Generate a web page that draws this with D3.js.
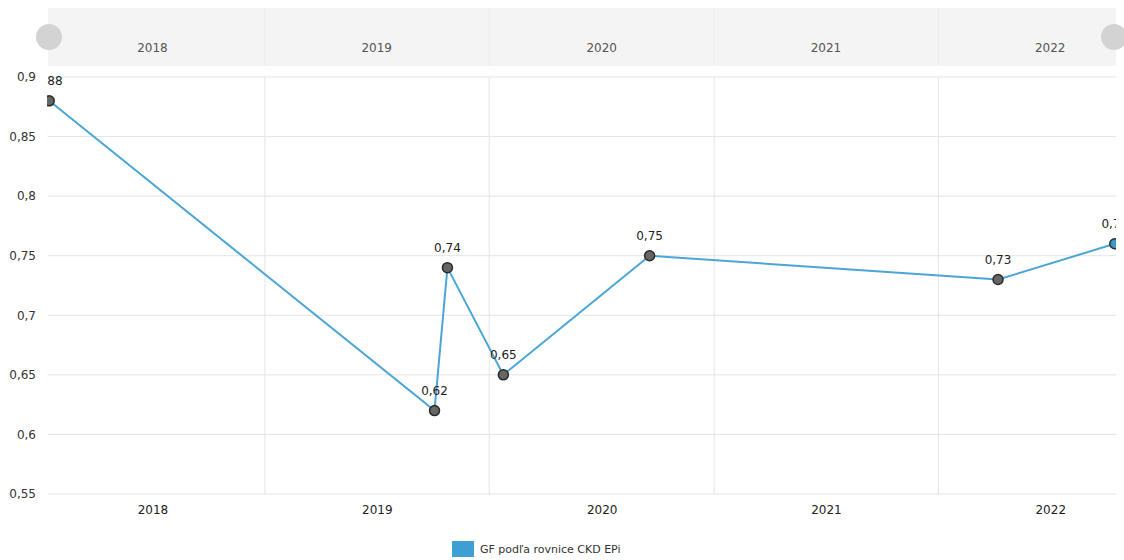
<!DOCTYPE html>
<html><head><meta charset="utf-8">
<script src="https://cdn.jsdelivr.net/npm/d3@7"></script>
<style>body{margin:0;background:#fff}svg{display:block;font-family:"DejaVu Sans",Verdana,sans-serif}</style>
</head><body>
<svg id="c" width="1124" height="560"></svg>
<script>
const dates = ["2018-01-15","2019-10-04","2019-10-25","2020-01-24","2020-09-18","2022-04-08","2022-10-15"];
const values = [0.88,0.62,0.74,0.65,0.75,0.73,0.76];
const yTicks = [0.55,0.6,0.65,0.7,0.75,0.8,0.85,0.9];
const yearLabels = ["2018","2019","2020","2021","2022"];
const seriesName = "GF podľa rovnice CKD EPi";

const parse = d3.timeParse("%Y-%m-%d");
const data = dates.map((d,i)=>({date:parse(d), value:values[i]}));
const svg = d3.select("#c");
const L=48, R=1116, T=77, B=494;
const x = d3.scaleTime().domain([parse("2018-01-13"), parse("2022-10-17")]).range([L,R]);
const y = d3.scaleLinear().domain([0.55,0.9]).range([B,T]);
const fmt = v => d3.format(".2~f")(v).replace(".",",");

const yearStarts = yearLabels.slice(1).map(s=>new Date(+s,0,1));
const yearMids = yearLabels.map(s=>new Date(+s,6,2));

// slider
const sl = svg.append("g");
sl.append("rect").attr("x",L).attr("y",8).attr("width",R-L).attr("height",58).attr("fill","#f4f4f4");
sl.selectAll("line.d").data(yearStarts).join("line")
  .attr("x1",d=>x(d)).attr("x2",d=>x(d)).attr("y1",8).attr("y2",66).attr("stroke","#ebebeb");
sl.selectAll("text").data(yearMids).join("text")
  .attr("x",d=>x(d)).attr("y",52).attr("text-anchor","middle").attr("font-size",12).attr("fill","#555")
  .text((d,i)=>yearLabels[i]);
sl.selectAll("circle").data([49,1114]).join("circle")
  .attr("cx",d=>d).attr("cy",37).attr("r",13).attr("fill","#d3d3d3");

// grid
const g = svg.append("g");
g.selectAll("line.h").data(yTicks).join("line")
  .attr("x1",L).attr("x2",R).attr("y1",d=>y(d)).attr("y2",d=>y(d)).attr("stroke","#e4e4e4");
g.selectAll("line.v").data(yearStarts).join("line")
  .attr("x1",d=>x(d)).attr("x2",d=>x(d)).attr("y1",T).attr("y2",B).attr("stroke","#e4e4e4");

// y axis
const ya = svg.append("g").attr("transform",`translate(${L},0)`)
  .call(d3.axisLeft(y).tickValues(yTicks).tickSize(0).tickPadding(12).tickFormat(fmt));
ya.select(".domain").remove();
ya.selectAll("text").attr("font-size",12).attr("fill","#333").attr("font-family","DejaVu Sans");

// x axis
const xa = svg.append("g").attr("transform",`translate(0,${B})`)
  .call(d3.axisBottom(x).tickValues(yearMids).tickSize(0).tickPadding(11).tickFormat((d,i)=>yearLabels[i]));
xa.select(".domain").remove();
xa.selectAll("text").attr("font-size",12).attr("fill","#222").attr("font-family","DejaVu Sans");

// clip
svg.append("clipPath").attr("id","clip").append("rect").attr("x",L-1).attr("y",0).attr("width",R-L+1).attr("height",560);
const p = svg.append("g").attr("clip-path","url(#clip)");
p.append("path").datum(data)
  .attr("d",d3.line().x(d=>x(d.date)).y(d=>y(d.value)))
  .attr("fill","none").attr("stroke","#4aa6d6").attr("stroke-width",2);
p.selectAll("circle").data(data).join("circle")
  .attr("cx",d=>x(d.date)).attr("cy",d=>y(d.value)).attr("r",5)
  .attr("fill",(d,i)=>i===data.length-1?"#3b98c8":"#666").attr("stroke","#2a2a2a").attr("stroke-width",1.5);
p.selectAll("text").data(data).join("text")
  .attr("x",d=>x(d.date)).attr("y",d=>y(d.value)-16).attr("text-anchor","middle")
  .attr("font-size",12).attr("fill","#222").text(d=>fmt(d.value));

// legend
const lg = svg.append("g");
lg.append("rect").attr("x",452).attr("y",541).attr("width",22).attr("height",16).attr("fill","#3d9fd3");
lg.append("text").attr("x",480).attr("y",553).attr("font-size",11).attr("fill","#333").text(seriesName);
</script>
</body></html>
